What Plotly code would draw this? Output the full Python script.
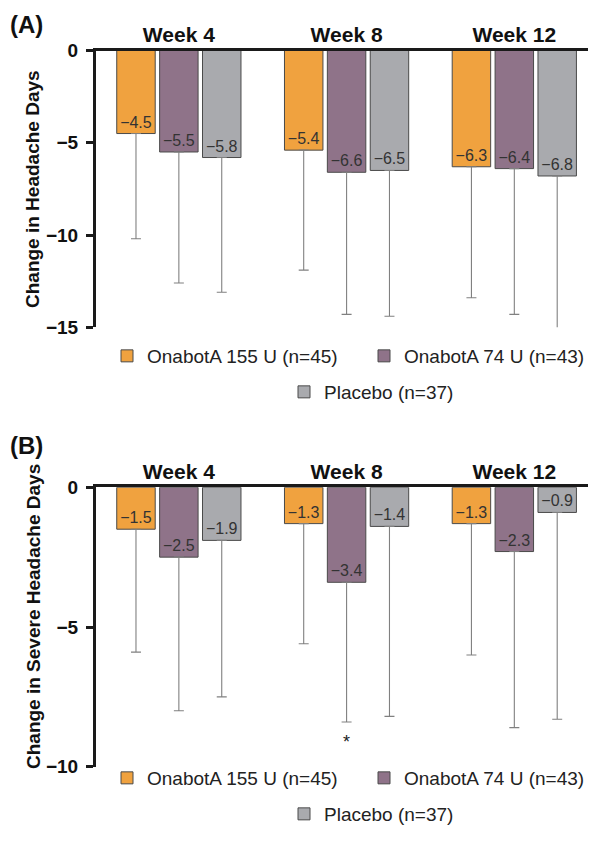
import plotly.graph_objects as go

W, H = 596, 842
OFFSET = 8  # the page body adds an 8px margin around the figure

weeks = ["Week 4", "Week 8", "Week 12"]
series_names = ["OnabotA 155 U (n=45)", "OnabotA 74 U (n=43)", "Placebo (n=37)"]
colors = ["#F0A23F", "#8F7389", "#A9AAAE"]

# Panel A: change in headache days (mean, SD)
a_onab155 = [-4.5, -5.4, -6.3]
a_onab74 = [-5.5, -6.6, -6.4]
a_placebo = [-5.8, -6.5, -6.8]
a_sd155 = [5.7, 6.5, 7.1]
a_sd74 = [7.1, 7.7, 7.9]
a_sdpl = [7.3, 7.9, 8.3]

# Panel B: change in severe headache days (mean, SD)
b_onab155 = [-1.5, -1.3, -1.3]
b_onab74 = [-2.5, -3.4, -2.3]
b_placebo = [-1.9, -1.4, -0.9]
b_sd155 = [4.4, 4.3, 4.7]
b_sd74 = [5.5, 5.0, 6.3]
b_sdpl = [5.6, 6.8, 7.4]

a_ticks = [0, -5, -10, -15]
b_ticks = [0, -5, -10]

FONT = "Liberation Sans, Arial, Helvetica, sans-serif"


def px_y(p):
    return 1 - (p - OFFSET) / H


def px_x(p):
    return max(0.0, (p - OFFSET) / W)


def fmt(v):
    return ("\u2212" if v < 0 else "") + f"{abs(v):.1f}"


fig = go.Figure()

panels = [
    ("x", "y", [a_onab155, a_onab74, a_placebo], [a_sd155, a_sd74, a_sdpl],
     ["legend", "legend2", "legend3"]),
    ("x2", "y2", [b_onab155, b_onab74, b_placebo], [b_sd155, b_sd74, b_sdpl],
     ["legend4", "legend5", "legend6"]),
]

for xa, ya, vals, sds, legs in panels:
    for i in range(3):
        fig.add_trace(go.Bar(
            x=weeks, y=vals[i], name=series_names[i],
            xaxis=xa, yaxis=ya, legend=legs[i],
            marker=dict(color=colors[i], line=dict(color="#4a4a4a", width=1)),
            text=[fmt(v) for v in vals[i]],
            textposition="inside", insidetextanchor="end", textangle=0,
            constraintext="none",
            textfont=dict(family=FONT, size=16, color="#333333"),
            error_y=dict(type="data", symmetric=False, array=[0] * len(sds[i]),
                         arrayminus=sds[i], color="#808080", thickness=1.1, width=5),
            showlegend=True,
        ))

xrange = [-0.494, 2.487]
common_x = dict(
    type="category", range=xrange, domain=[px_x(96), px_x(596)], side="top",
    showline=True, linewidth=3, linecolor="#1a1a1a", ticks="",
    ticklabelstandoff=-3,
    tickfont=dict(family=FONT, size=21, color="#111111", weight="bold"),
    showgrid=False, zeroline=False, fixedrange=True, automargin=False,
)
common_y = dict(
    showline=True, linewidth=3, linecolor="#1a1a1a", ticks="outside",
    ticklen=7, tickwidth=3, tickcolor="#1a1a1a", ticklabelstandoff=4,
    tickfont=dict(family=FONT, size=19, color="#111111", weight="bold"),
    showgrid=False, zeroline=False, fixedrange=True, automargin=False,
)

fig.update_layout(
    width=W, height=H,
    margin=dict(l=0, r=0, t=0, b=0, pad=0, autoexpand=False),
    paper_bgcolor="white", plot_bgcolor="white",
    barmode="group", bargap=0.233, bargroupgap=0.103,
    font=dict(family=FONT),
    xaxis=dict(**common_x, anchor="y"),
    yaxis=dict(**common_y, anchor="x", range=[-15, 0], tickvals=a_ticks,
               domain=[px_y(327.3), px_y(50.5)]),
    xaxis2=dict(**common_x, anchor="y2"),
    yaxis2=dict(**common_y, anchor="x2", range=[-10, 0], tickvals=b_ticks,
                domain=[px_y(766.7), px_y(487.3)]),
)

leg_font = dict(family=FONT, size=19, color="#222222")
leg_common = dict(orientation="h", font=leg_font, bgcolor="rgba(0,0,0,0)",
                  xanchor="left", yanchor="middle", itemwidth=30)
fig.update_layout(
    legend=dict(**leg_common, x=px_x(107), y=px_y(356)),
    legend2=dict(**leg_common, x=px_x(364), y=px_y(356)),
    legend3=dict(**leg_common, x=px_x(284), y=px_y(392)),
    legend4=dict(**leg_common, x=px_x(107), y=px_y(778)),
    legend5=dict(**leg_common, x=px_x(364), y=px_y(778)),
    legend6=dict(**leg_common, x=px_x(284), y=px_y(814)),
)

# panel labels
fig.add_annotation(text="(A)", x=px_x(8), y=px_y(25), xref="paper", yref="paper",
                   xanchor="left", yanchor="middle", showarrow=False,
                   font=dict(family=FONT, size=24, color="#111111", weight="bold"))
fig.add_annotation(text="(B)", x=px_x(8), y=px_y(446), xref="paper", yref="paper",
                   xanchor="left", yanchor="middle", showarrow=False,
                   font=dict(family=FONT, size=24, color="#111111", weight="bold"))

# y-axis titles
fig.add_annotation(text="Change in Headache Days", x=px_x(33), y=px_y(189),
                   xref="paper", yref="paper", textangle=-90, showarrow=False,
                   xanchor="center", yanchor="middle",
                   font=dict(family=FONT, size=19, color="#111111", weight="bold"))
fig.add_annotation(text="Change in Severe Headache Days", x=px_x(33), y=px_y(617),
                   xref="paper", yref="paper", textangle=-90, showarrow=False,
                   xanchor="center", yanchor="middle",
                   font=dict(family=FONT, size=19, color="#111111", weight="bold"))

# significance marker
fig.add_annotation(text="*", x="Week 8", y=-9.1, xref="x2", yref="y2",
                   showarrow=False, font=dict(family=FONT, size=18, color="#222222"))

fig.write_html("out.html")
